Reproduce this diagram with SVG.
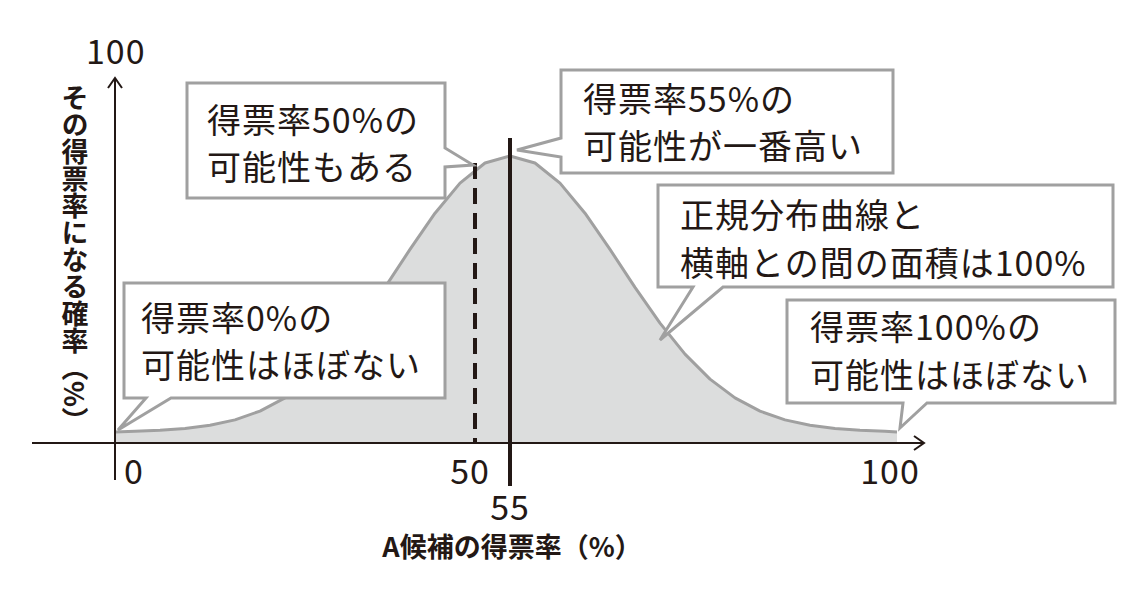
<svg xmlns="http://www.w3.org/2000/svg" width="1140" height="616" viewBox="0 0 1140 616">
<style>
.t{font-family:"Noto Sans CJK JP","Noto Sans",sans-serif;fill:#231815;font-size:34px;letter-spacing:1px}
.b{font-family:"Noto Sans CJK JP","Noto Sans",sans-serif;fill:#231815;font-weight:bold;font-size:27px}
.c{fill:#fff;stroke:#a0a0a0;stroke-width:3;stroke-linejoin:miter}
.ax{stroke:#231815;stroke-width:2;fill:none}
</style>
<rect width="1140" height="616" fill="#fff"/>
<g id="curve">
<path d="M115,443 L115,432 L135,431.2 L160,430.3 L185,428.5 L210,425.3 L235,419.9 L260,411.1 L285,397.9 L310,379.1 L335,354.1 L360,323.1 L385,287.3 L410,249.4 L435,213.2 L460,183.1 L485,163 L510,156 L535,163 L560,183.1 L585,213.2 L610,249.4 L635,287.3 L660,323.1 L685,354.1 L710,379.1 L735,397.9 L760,411.1 L785,419.9 L810,425.3 L835,428.5 L860,430.3 L885,431.2 L897,432 L897,443 Z" fill="#dcdddd" stroke="none"/>
<path d="M115,432 L135,431.2 L160,430.3 L185,428.5 L210,425.3 L235,419.9 L260,411.1 L285,397.9 L310,379.1 L335,354.1 L360,323.1 L385,287.3 L410,249.4 L435,213.2 L460,183.1 L485,163 L510,156 L535,163 L560,183.1 L585,213.2 L610,249.4 L635,287.3 L660,323.1 L685,354.1 L710,379.1 L735,397.9 L760,411.1 L785,419.9 L810,425.3 L835,428.5 L860,430.3 L885,431.2 L897,432" fill="none" stroke="#a0a0a0" stroke-width="3" stroke-linejoin="round"/>
</g>
<g id="connectors">
<line class="ax" x1="32" y1="443" x2="924" y2="443"/>
<path class="ax" d="M914,436 L924,443 L914,450"/>
<line class="ax" x1="115" y1="480" x2="115" y2="78"/>
<path class="ax" d="M108,88 L115,78 L122,88"/>
<line x1="475" y1="163" x2="475" y2="443" stroke="#231815" stroke-width="4" stroke-dasharray="16,9"/>
<line x1="510" y1="138" x2="510" y2="486" stroke="#231815" stroke-width="4"/>
</g>
<g id="callout50">
<path class="c" d="M187,83 H445 V148 L473,165 L445,167 V198 H187 Z"/>
<text class="t" x="207" y="133">得票率50%の</text>
<text class="t" x="207" y="180">可能性もある</text>
</g>
<g id="callout55">
<path class="c" d="M561,70 H893 V173 H561 V157 L517,150 L561,138 Z"/>
<text class="t" x="583" y="112">得票率55%の</text>
<text class="t" x="583" y="159">可能性が一番高い</text>
</g>
<g id="calloutArea">
<path class="c" d="M658,185 H1113 V287 H723 L660,340 L693,287 H658 Z"/>
<text class="t" x="680" y="228">正規分布曲線と</text>
<text class="t" x="680" y="276">横軸との間の面積は100%</text>
</g>
<g id="callout100">
<path class="c" d="M787,300 H1115 V403 H927 L900,428 L903,403 H787 Z"/>
<text class="t" x="810" y="340">得票率100%の</text>
<text class="t" x="810" y="388">可能性はほぼない</text>
</g>
<g id="callout0">
<path class="c" d="M124,283 H445 V398 H171 L118,430 L146,398 H124 Z"/>
<text class="t" x="141" y="331">得票率0%の</text>
<text class="t" x="141" y="378">可能性はほぼない</text>
</g>
<g id="labels">
<text class="t" x="86" y="64" font-size="35">100</text>
<text class="t" x="124" y="484">0</text>
<text class="t" x="470" y="484" text-anchor="middle">50</text>
<text class="t" x="890" y="484" text-anchor="middle">100</text>
<text class="t" x="510" y="520" text-anchor="middle" font-size="28">55</text>
<text class="b" x="512" y="557" text-anchor="middle" font-size="28">A候補の得票率（%）</text>
<text class="b" x="75" y="84" style="writing-mode:vertical-rl">その得票率になる確率（%）</text>
</g>
</svg>
